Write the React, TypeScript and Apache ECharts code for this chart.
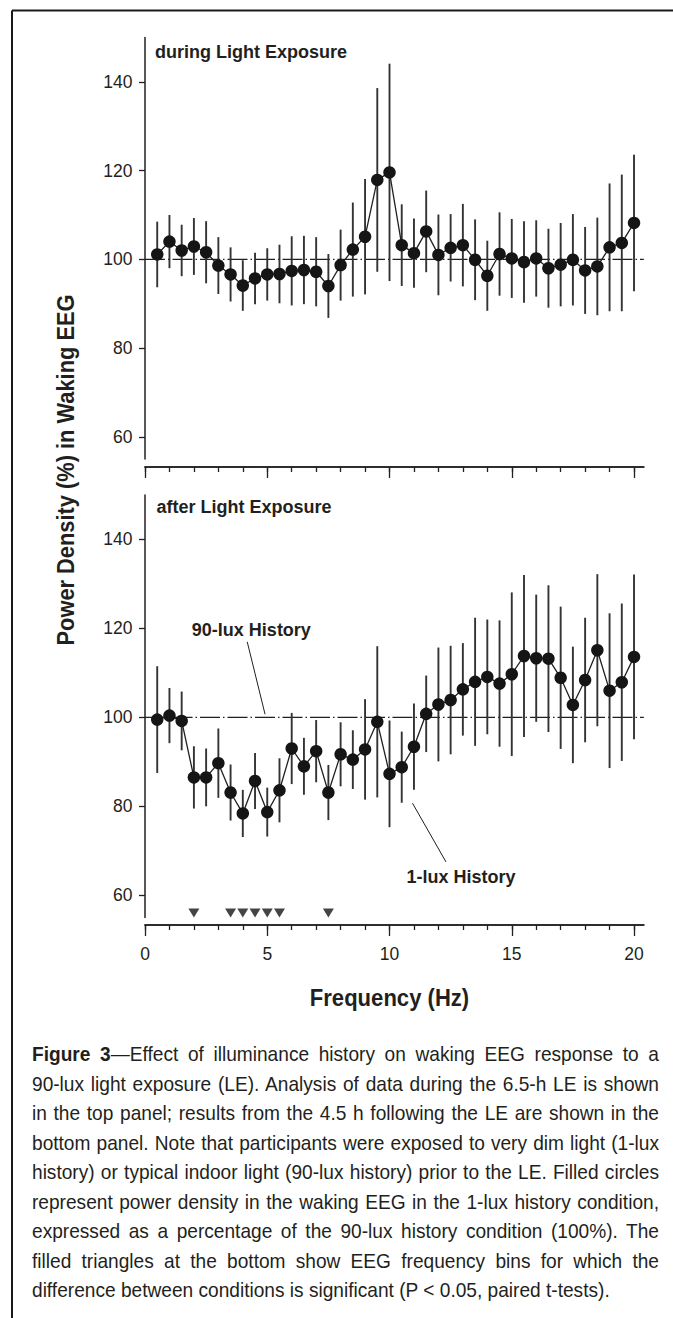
import React, { useEffect, useRef } from "react";
import * as echarts from "echarts";

// ---------- data ----------
const freqHz = [0.5, 1, 1.5, 2, 2.5, 3, 3.5, 4, 4.5, 5, 5.5, 6, 6.5, 7, 7.5, 8, 8.5, 9, 9.5, 10, 10.5, 11, 11.5, 12, 12.5, 13, 13.5, 14, 14.5, 15, 15.5, 16, 16.5, 17, 17.5, 18, 18.5, 19, 19.5, 20];
const duringMean = [101.1, 104.0, 102.0, 102.9, 101.6, 98.6, 96.6, 94.1, 95.7, 96.6, 96.7, 97.4, 97.6, 97.2, 94.0, 98.7, 102.2, 105.1, 117.9, 119.6, 103.2, 101.4, 106.3, 101.0, 102.6, 103.2, 99.9, 96.3, 101.2, 100.2, 99.4, 100.2, 98.0, 98.8, 99.9, 97.5, 98.4, 102.7, 103.7, 108.2];
const duringSE = [7.4, 6.0, 5.8, 6.4, 7.0, 6.4, 6.1, 5.7, 5.8, 5.9, 6.6, 7.8, 7.7, 7.8, 7.2, 8.0, 10.6, 13.0, 20.7, 24.5, 9.2, 7.8, 9.2, 9.1, 7.6, 9.3, 9.1, 7.9, 9.4, 8.9, 9.2, 8.6, 8.9, 9.4, 10.3, 9.8, 11.0, 14.4, 15.4, 15.4];
const afterMean = [99.5, 100.4, 99.2, 86.5, 86.5, 89.7, 83.1, 78.4, 85.7, 78.7, 83.6, 93.0, 89.0, 92.4, 83.1, 91.7, 90.5, 92.8, 99.0, 87.3, 88.8, 93.4, 100.8, 102.9, 103.9, 106.3, 108.0, 109.1, 107.6, 109.7, 113.8, 113.3, 113.2, 108.9, 102.8, 108.4, 115.1, 106.0, 107.9, 113.6];
const afterSE = [12.0, 6.2, 6.6, 7.0, 6.5, 7.8, 6.3, 5.3, 6.3, 5.5, 7.2, 8.0, 6.4, 7.0, 6.2, 7.2, 6.6, 11.3, 17.0, 12.0, 8.0, 9.7, 8.6, 12.8, 12.2, 10.4, 14.4, 12.9, 14.2, 18.4, 18.2, 14.3, 16.5, 16.0, 13.1, 14.0, 17.1, 17.4, 17.7, 18.5];
const sigBinsHz = [2, 3.5, 4, 4.5, 5, 5.5, 7.5];
const sigMarkerLevel = 56;
const referenceLevel = 100;

const xMinorTicks = [0, 1, 2, 3, 4, 5, 6, 7, 8, 9, 10, 11, 12, 13, 14, 15, 16, 17, 18, 19, 20];
const xMajorTicks = [0, 5, 10, 15, 20];
const yTicks = [60, 80, 100, 120, 140];
const xRange = [0, 20.4];
const yRange = [55, 150];

const panelTitles = ["during Light Exposure", "after Light Exposure"];
const yTitle = "Power Density (%) in Waking EEG";
const xTitle = "Frequency (Hz)";
const lux90Label = { text: "90-lux History", hz: 4.35, pct: 119.6 };
const lux90Leader = [[4.18, 117.0], [4.91, 100.7]];
const lux1Label = { text: "1-lux History", hz: 12.92, pct: 64.1 };
const lux1Leader = [[10.94, 80.7], [12.31, 67.5]];

const captionLead = "Figure 3";
const captionLines = [
  "—Effect of illuminance history on waking EEG response to a",
  "90-lux light exposure (LE). Analysis of data during the 6.5-h LE is shown",
  "in the top panel; results from the 4.5 h following the LE are shown in the",
  "bottom panel. Note that participants were exposed to very dim light (1-lux",
  "history) or typical indoor light (90-lux history) prior to the LE. Filled circles",
  "represent power density in the waking EEG in the 1-lux history condition,",
  "expressed as a percentage of the 90-lux history condition (100%). The",
  "filled triangles at the bottom show EEG frequency bins for which the",
  "difference between conditions is significant (P < 0.05, paired t-tests).",
];

// ---------- style ----------
const FONT = '"Liberation Sans", Arial, Helvetica, sans-serif';
const INK = "#231f20";
const BAR = "#333333";

export default function App() {
  const ref = useRef<HTMLDivElement>(null);

  useEffect(() => {
    if (!ref.current) return;
    const chart = echarts.init(ref.current, null, { renderer: "svg" });

    const grids = [
      { left: 145, top: 37.5, width: 498.8, height: 421.5, offset: 8 },
      { left: 145, top: 495, width: 498.8, height: 422.5, offset: 7.5 },
    ];

    const xAxes: any[] = [];
    grids.forEach((g, gi) => {
      const base = {
        type: "value",
        gridIndex: gi,
        min: xRange[0],
        max: xRange[1],
        position: "bottom",
        offset: g.offset,
        axisLine: { show: true, onZero: false, lineStyle: { color: INK, width: 1.5 } },
        splitLine: { show: false },
        silent: true,
      };
      xAxes.push({
        ...base,
        axisTick: { show: true, customValues: xMinorTicks, length: 5, lineStyle: { color: INK, width: 1.3 } },
        axisLabel: { show: false },
      });
      xAxes.push({
        ...base,
        axisTick: { show: true, customValues: xMajorTicks, length: 11, lineStyle: { color: INK, width: 1.3 } },
        axisLabel:
          gi === 1
            ? { show: true, customValues: xMajorTicks, margin: 20, color: INK, fontSize: 17.5, fontFamily: FONT }
            : { show: false },
      });
    });

    const yAxes = grids.map((_, gi) => ({
      type: "value",
      gridIndex: gi,
      min: yRange[0],
      max: yRange[1],
      position: "left",
      axisLine: { show: true, onZero: false, lineStyle: { color: INK, width: 1.5 } },
      axisTick: { show: true, customValues: yTicks, length: 6, lineStyle: { color: INK, width: 1.3 } },
      axisLabel: { show: true, customValues: yTicks, margin: 12.5, color: INK, fontSize: 17.5, fontFamily: FONT },
      splitLine: { show: false },
      silent: true,
    }));

    const errRender = (params: any, api: any) => {
      const x = api.value(0);
      const lo = api.coord([x, api.value(1)]);
      const hi = api.coord([x, api.value(2)]);
      return {
        type: "line",
        shape: { x1: lo[0], y1: lo[1], x2: hi[0], y2: hi[1] },
        style: { stroke: BAR, lineWidth: 1.9 },
      };
    };

    const panels = [
      { mean: duringMean, se: duringSE, xIdx: 0, yIdx: 0 },
      { mean: afterMean, se: afterSE, xIdx: 2, yIdx: 1 },
    ];

    const series: any[] = [];
    panels.forEach((p) => {
      series.push({
        type: "line",
        xAxisIndex: p.xIdx,
        yAxisIndex: p.yIdx,
        data: [[xRange[0], referenceLevel], [xRange[1], referenceLevel]],
        symbol: "none",
        silent: true,
        lineStyle: { color: INK, width: 1.1, type: [20, 3, 1.5, 3] },
        z: 1,
      });
      series.push({
        type: "custom",
        xAxisIndex: p.xIdx,
        yAxisIndex: p.yIdx,
        renderItem: errRender,
        encode: { x: 0, y: [1, 2] },
        data: freqHz.map((f, i) => [f, p.mean[i] - p.se[i], p.mean[i] + p.se[i]]),
        silent: true,
        z: 2,
      });
      series.push({
        type: "line",
        xAxisIndex: p.xIdx,
        yAxisIndex: p.yIdx,
        data: freqHz.map((f, i) => [f, p.mean[i]]),
        symbol: "circle",
        symbolSize: 12.5,
        showSymbol: true,
        itemStyle: { color: "#151515", borderWidth: 0 },
        lineStyle: { color: INK, width: 1.3 },
        silent: true,
        z: 3,
      });
    });
    // significance triangles
    series.push({
      type: "scatter",
      xAxisIndex: 2,
      yAxisIndex: 1,
      data: sigBinsHz.map((f) => [f, sigMarkerLevel]),
      symbol: "triangle",
      symbolRotate: 180,
      symbolSize: [11, 9],
      itemStyle: { color: "#151515" },
      silent: true,
      z: 3,
    });
    // leader lines
    const afterLineSeriesIndex = 5;
    [lux90Leader, lux1Leader].forEach((seg) => {
      series.push({
        type: "line",
        xAxisIndex: 2,
        yAxisIndex: 1,
        data: seg,
        symbol: "none",
        silent: true,
        lineStyle: { color: INK, width: 1 },
        z: 2,
      });
    });

    chart.setOption({
      animation: false,
      backgroundColor: "#ffffff",
      grid: grids.map((g) => ({
        left: g.left,
        top: g.top,
        width: g.width,
        height: g.height,
        containLabel: false,
        outerBoundsMode: "none",
      })),
      xAxis: xAxes,
      yAxis: yAxes,
      series,
    } as any);

    const p90 = chart.convertToPixel({ seriesIndex: afterLineSeriesIndex }, [lux90Label.hz, lux90Label.pct]) as number[];
    const p1 = chart.convertToPixel({ seriesIndex: afterLineSeriesIndex }, [lux1Label.hz, lux1Label.pct]) as number[];

    const boldText = (text: string, x: number, y: number, size: number, align = "left", rotation = 0, scaleX = 1) => ({
      type: "text",
      x,
      y,
      rotation,
      scaleX,
      silent: true,
      style: {
        text,
        fill: INK,
        fontSize: size,
        fontWeight: "bold",
        fontFamily: FONT,
        align,
        verticalAlign: "middle",
      },
    });

    chart.setOption({
      graphic: [
        { type: "line", silent: true, shape: { x1: 12, y1: 10.5, x2: 673, y2: 10.5 }, style: { stroke: "#1a1a1a", lineWidth: 2 } },
        { type: "line", silent: true, shape: { x1: 12, y1: 10.5, x2: 12, y2: 1318 }, style: { stroke: "#1a1a1a", lineWidth: 2 } },
        boldText(panelTitles[0], 155, 52, 18),
        boldText(panelTitles[1], 156.5, 507, 18),
        boldText(yTitle, 66, 470, 24, "center", Math.PI / 2, 0.91),
        boldText(xTitle, 389.5, 998, 24, "center", 0, 0.92),
        boldText(lux90Label.text, p90[0], p90[1], 18, "center"),
        boldText(lux1Label.text, p1[0], p1[1], 18, "center"),
      ],
    });

    return () => chart.dispose();
  }, []);

  const last = captionLines.length - 1;
  return (
    <div style={{ position: "absolute", left: 0, top: 0, width: 673, height: 1318, background: "#fff", overflow: "hidden" }}>
      <div ref={ref} style={{ position: "absolute", left: 0, top: 0, width: 673, height: 1318 }} />
      <div
        style={{
          position: "absolute",
          left: 32,
          top: 1039,
          width: 689,
          transform: "scaleX(0.91)",
          transformOrigin: "0 0",
          fontFamily: FONT,
          fontSize: 21,
          lineHeight: "29.5px",
          color: INK,
        }}
      >
        {captionLines.map((ln, i) => (
          <div
            key={i}
            style={{
              textAlign: i < last ? "justify" : "left",
              textAlignLast: i < last ? "justify" : "left",
              whiteSpace: "nowrap",
            } as any}
          >
            {i === 0 ? <b>{captionLead}</b> : null}
            {ln}
          </div>
        ))}
      </div>
    </div>
  );
}
